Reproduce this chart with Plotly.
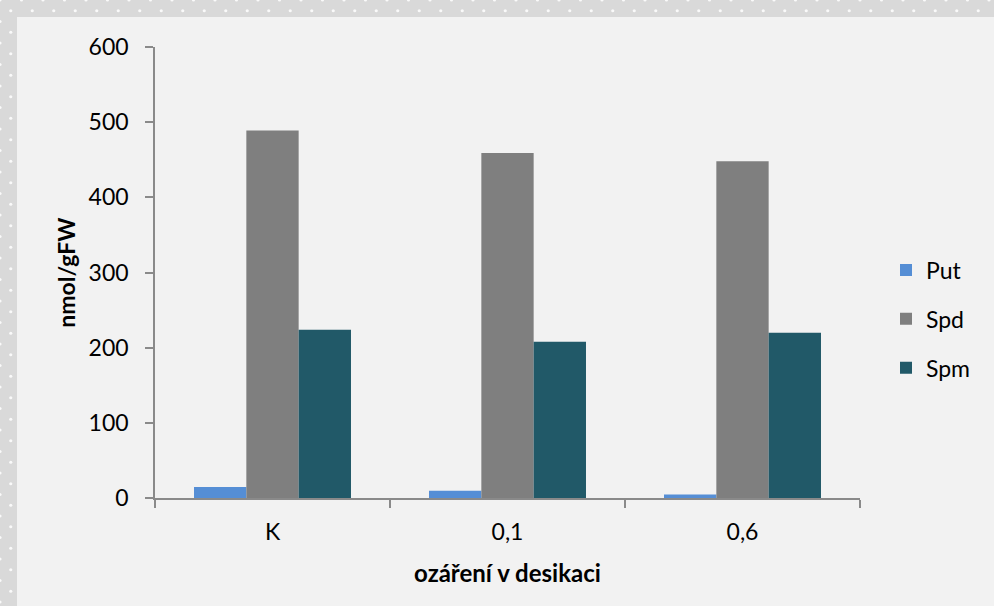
import numpy as np
import plotly.graph_objects as go

# Polyamine content by irradiation level during desiccation
categories = ["K", "0,1", "0,6"]
put = [15, 10, 5]
spd = [489, 459, 448]
spm = [224, 208, 220]
y_ticks = [0, 100, 200, 300, 400, 500, 600]

series = [
    ("Put", put, "#558ed5"),
    ("Spd", spd, "#7f7f7f"),
    ("Spm", spm, "#215968"),
]

W, H = 994, 606
FONT = "Lato"
AXIS_GRAY = "#8a8a8a"

fig = go.Figure()
for i, (name, vals, color) in enumerate(series):
    fig.add_trace(go.Bar(
        x=categories, y=vals, name=name,
        marker=dict(color=color, line=dict(width=0)),
        legendgroup=name,
    ))

# dotted frame pattern along the top and left edges
step = 21.5
band = 17
dx, dy = [], []
for off in (0.0, step / 2):
    for gx in np.arange(off, W + 1, step):
        for gy in np.arange(off, H + 1, step):
            if gx <= band or gy <= band:
                dx.append(gx)
                dy.append(gy)
fig.add_trace(go.Scatter(
    x=dx, y=dy, xaxis="x2", yaxis="y2", mode="markers",
    marker=dict(size=3.2, color="rgba(255,255,255,0.85)", line=dict(width=0)),
    hoverinfo="skip", showlegend=False,
))

x0, x1 = 155, 860
y0, y1 = 498.3, 47
fig.update_layout(
    width=W, height=H,
    margin=dict(l=0, r=0, t=0, b=0),
    paper_bgcolor="#f2f2f2",
    plot_bgcolor="rgba(0,0,0,0)",
    barmode="group",
    bargap=0.332,
    bargroupgap=0,
    font=dict(family=FONT, size=23, color="#000000"),
    xaxis=dict(
        domain=[x0 / W, x1 / W],
        type="category",
        showline=True, linecolor=AXIS_GRAY, linewidth=1.5,
        ticks="outside", tickson="boundaries", ticklen=8,
        tickcolor=AXIS_GRAY, tickwidth=1.5,
        ticklabelstandoff=12,
        showgrid=False, zeroline=False,
        title=dict(text="<b>ozáření v desikaci</b>", font=dict(size=24), standoff=22),
        automargin=False,
    ),
    yaxis=dict(
        domain=[1 - y0 / H, 1 - y1 / H],
        range=[0, 600],
        tickvals=y_ticks,
        showline=True, linecolor=AXIS_GRAY, linewidth=1.5,
        ticks="outside", ticklen=8, tickcolor=AXIS_GRAY, tickwidth=1.5,
        ticklabelstandoff=12,
        showgrid=False, zeroline=False,
        title=dict(text="<b>nmol/gFW</b>", font=dict(size=23), standoff=7),
        automargin=False,
    ),
    xaxis2=dict(domain=[0, 1], range=[0, W], visible=False, anchor="y2"),
    yaxis2=dict(domain=[0, 1], range=[H, 0], visible=False, anchor="x2"),
    legend=dict(
        x=886 / W, xanchor="left",
        y=1 - 319 / H, yanchor="middle",
        bgcolor="rgba(0,0,0,0)",
        traceorder="grouped",
        tracegroupgap=16,
        font=dict(size=23),
    ),
    shapes=[
        dict(type="rect", xref="paper", yref="paper", x0=0, x1=1,
             y0=1 - band / H, y1=1, fillcolor="#d9d9d9", line=dict(width=0), layer="below"),
        dict(type="rect", xref="paper", yref="paper", x0=0, x1=band / W,
             y0=0, y1=1, fillcolor="#d9d9d9", line=dict(width=0), layer="below"),
    ],
)

fig.write_html("out.html")
